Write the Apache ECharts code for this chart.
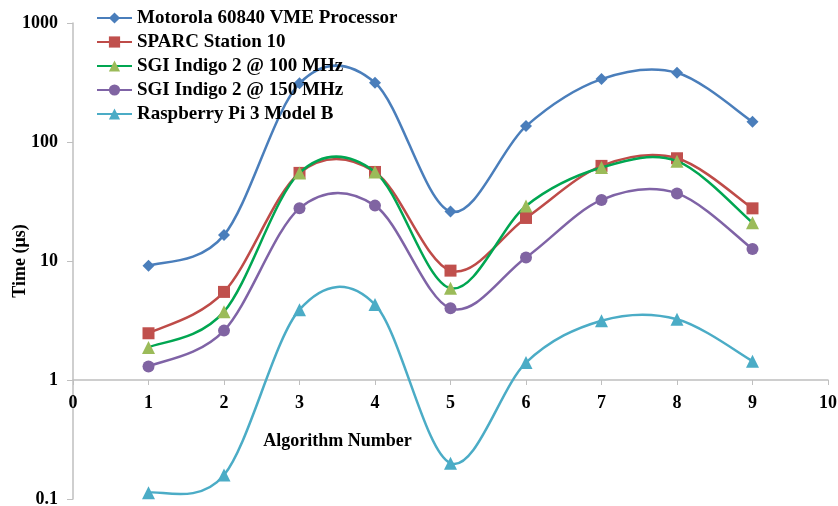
<!DOCTYPE html>
<html>
<head>
<meta charset="utf-8">
<script src="https://cdn.jsdelivr.net/npm/echarts@6/dist/echarts.min.js"></script>
<style>html,body{margin:0;padding:0;background:#fff;}#c{width:838px;height:506px;}</style>
</head>
<body>
<div id="c"></div>
<script>
const algorithms = [1, 2, 3, 4, 5, 6, 7, 8, 9];
const motorola = [9.1, 16.5, 311, 315, 26, 136, 338, 382, 148];
const sparc = [2.47, 5.5, 55, 56, 8.3, 23, 63, 73, 27.7];
const sgi100 = [1.88, 3.75, 55, 56, 5.9, 29, 61, 69, 21];
const sgi150 = [1.3, 2.6, 27.7, 29.2, 4.0, 10.7, 32.6, 37, 12.6];
const raspberry = [0.113, 0.159, 3.9, 4.3, 0.2, 1.4, 3.15, 3.24, 1.44];
const seriesNames = ['Motorola 60840 VME Processor', 'SPARC Station 10', 'SGI Indigo 2 @ 100 MHz', 'SGI Indigo 2 @ 150 MHz', 'Raspberry Pi 3 Model B'];
const yTicks = [0.1, 1, 10, 100, 1000];

const font = 'Liberation Serif';
function pairs(vals) { return algorithms.map((a, i) => [a, vals[i]]); }

// Smooth curve (Catmull-Rom style, as spreadsheet "smoothed line") drawn through library coordinates
function curveSeries(vals, color, z) {
  const data = pairs(vals);
  return {
    type: 'custom', name: '_curve', z: z, silent: true,
    data: data,
    encode: { x: 0, y: 1 },
    renderItem: function (params, api) {
      const i = params.dataIndex;
      const n = data.length;
      if (i >= n - 1) return null;
      const P = k => api.coord(data[Math.max(0, Math.min(n - 1, k))]);
      const p0 = P(i - 1), p1 = P(i), p2 = P(i + 1), p3 = P(i + 2);
      const t = 1 / 6;
      return {
        type: 'bezierCurve',
        shape: {
          x1: p1[0], y1: p1[1], x2: p2[0], y2: p2[1],
          cpx1: p1[0] + (p2[0] - p0[0]) * t, cpy1: p1[1] + (p2[1] - p0[1]) * t,
          cpx2: p2[0] - (p3[0] - p1[0]) * t, cpy2: p2[1] - (p3[1] - p1[1]) * t
        },
        style: { stroke: color, lineWidth: 2.5, fill: null }
      };
    }
  };
}
function markers(name, vals, lineColor, markColor, symbol, size, z) {
  return {
    name, type: 'line', data: pairs(vals), z: z,
    symbol, symbolSize: size, showSymbol: true,
    lineStyle: { color: lineColor, width: 2.5, opacity: 0 },
    itemStyle: { color: markColor },
    emphasis: { disabled: true }
  };
}
const defs = [
  [seriesNames[0], motorola, '#4A7EBB', '#4A7EBB', 'diamond', 12],
  [seriesNames[1], sparc, '#BE4B48', '#C0504D', 'rect', 12],
  [seriesNames[2], sgi100, '#00A651', '#9BBB59', 'triangle', 13],
  [seriesNames[3], sgi150, '#7F63A6', '#8064A2', 'circle', 12],
  [seriesNames[4], raspberry, '#4BACC6', '#4BACC6', 'triangle', 13]
];
const series = [];
defs.forEach((d, k) => {
  series.push(curveSeries(d[1], d[2], 2 + k * 2));
  series.push(markers(d[0], d[1], d[2], d[3], d[4], d[5], 3 + k * 2));
});

const chart = echarts.init(document.getElementById('c'), null, { renderer: 'canvas' });
chart.setOption({
  animation: false,
  backgroundColor: '#fff',
  grid: { left: 73, top: 23, right: 10, bottom: 7, containLabel: false, outerBoundsMode: 'none' },
  legend: {
    orient: 'vertical', left: 91, top: 3, itemGap: 4, itemWidth: 35, itemHeight: 14,
    textStyle: { fontFamily: font, fontWeight: 'bold', fontSize: 19, color: '#000', lineHeight: 20 },
    lineStyle: { opacity: 1 },
    data: seriesNames
  },
  xAxis: {
    type: 'value', min: 0, max: 10, interval: 1, offset: -119,
    axisLine: { show: true, onZero: false, lineStyle: { color: '#BFBFBF', width: 1.5 } },
    axisTick: { show: true, length: 5, lineStyle: { color: '#BFBFBF' } },
    axisLabel: { fontFamily: font, fontWeight: 'bold', fontSize: 18, color: '#000', margin: 14 },
    splitLine: { show: false },
    name: 'Algorithm Number', nameLocation: 'middle', nameGap: 52, nameMoveOverlap: false,
    nameTextStyle: { fontFamily: font, fontWeight: 'bold', fontSize: 18, color: '#000', padding: [0, 226, 0, 0] }
  },
  yAxis: {
    type: 'log', logBase: 10, min: yTicks[0], max: yTicks[yTicks.length - 1],
    axisLine: { show: true, lineStyle: { color: '#BFBFBF', width: 1.5 } },
    axisTick: { show: true, length: 6, lineStyle: { color: '#BFBFBF' } },
    axisLabel: { fontFamily: font, fontWeight: 'bold', fontSize: 18, color: '#000', margin: 15,
      formatter: v => String(+v.toPrecision(3)) },
    splitLine: { show: false },
    name: 'Time (μs)', nameLocation: 'middle', nameGap: 44, nameRotate: 90, nameMoveOverlap: false,
    nameTextStyle: { fontFamily: font, fontWeight: 'bold', fontSize: 18, color: '#000' }
  },
  series: series
});
</script>
</body>
</html>
